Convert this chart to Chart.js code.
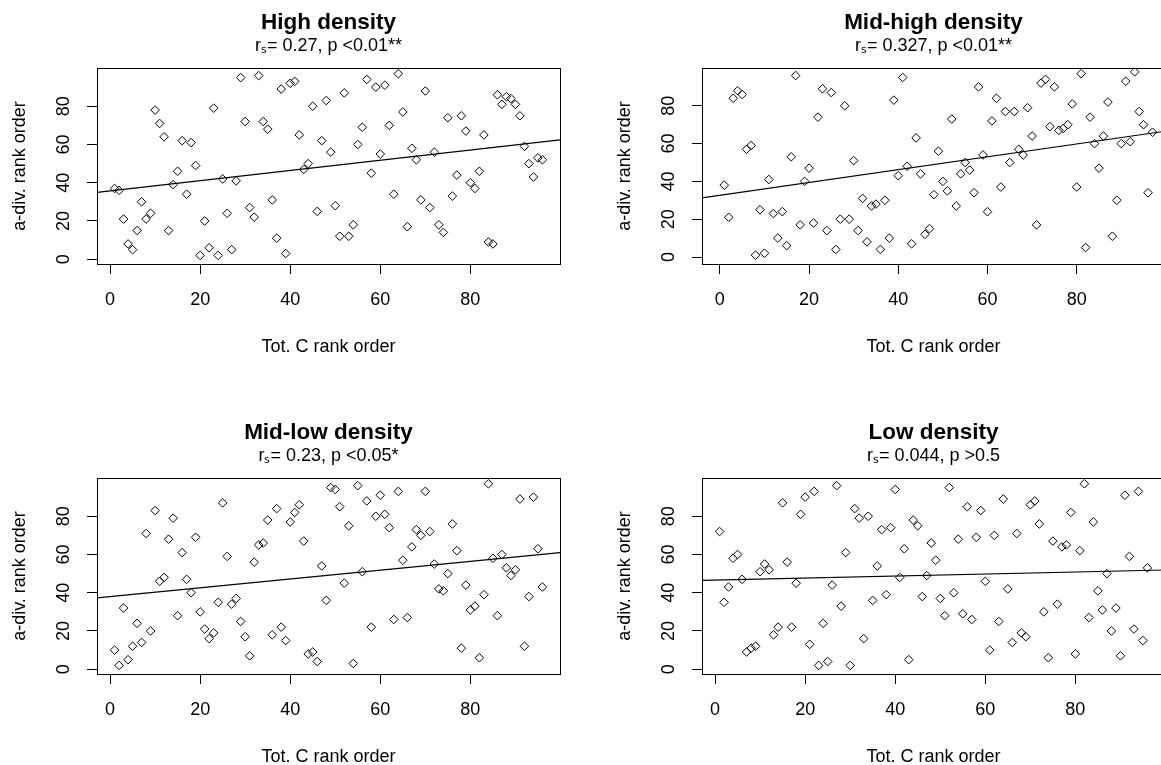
<!DOCTYPE html>
<html>
<head>
<meta charset="utf-8">
<script src="https://cdn.jsdelivr.net/npm/chart.js@4.4.0/dist/chart.umd.min.js"></script>
<style>
  html, body { margin: 0; padding: 0; background: #fff; overflow: hidden; }
  #wrap { position: relative; width: 1161px; height: 765px; overflow: hidden; }
  #wrap canvas { position: absolute; }
</style>
</head>
<body>
<div id="wrap">
  <canvas id="p1" width="605" height="410" style="left:0;top:0"></canvas>
  <canvas id="p2" width="605" height="410" style="left:605px;top:0"></canvas>
  <canvas id="p3" width="605" height="410" style="left:0;top:410px"></canvas>
  <canvas id="p4" width="605" height="410" style="left:605px;top:410px"></canvas>
</div>
<script>
// Tot. C rank order (x)
const totCRank96 = [
  1, 2, 3, 4, 5, 6, 7, 8, 9, 10, 11, 12, 13, 14, 15, 16, 17, 18, 19, 20,
  21, 22, 23, 24, 25, 26, 27, 28, 29, 30, 31, 32, 33, 34, 35, 36, 37, 38, 39, 40,
  41, 42, 43, 44, 45, 46, 47, 48, 49, 50, 51, 52, 53, 54, 55, 56, 57, 58, 59, 60,
  61, 62, 63, 64, 65, 66, 67, 68, 69, 70, 71, 72, 73, 74, 75, 76, 77, 78, 79, 80,
  81, 82, 83, 84, 85, 86, 87, 88, 89, 90, 91, 92, 93, 94, 95, 96
];
const totCRank97 = [
  1, 2, 3, 4, 5, 6, 7, 8, 9, 10, 11, 12, 13, 14, 15, 16, 17, 18, 19, 20,
  21, 22, 23, 24, 25, 26, 27, 28, 29, 30, 31, 32, 33, 34, 35, 36, 37, 38, 39, 40,
  41, 42, 43, 44, 45, 46, 47, 48, 49, 50, 51, 52, 53, 54, 55, 56, 57, 58, 59, 60,
  61, 62, 63, 64, 65, 66, 67, 68, 69, 70, 71, 72, 73, 74, 75, 76, 77, 78, 79, 80,
  81, 82, 83, 84, 85, 86, 87, 88, 89, 90, 91, 92, 93, 94, 95, 96, 97
];

// a-div. rank order (y) for each density class
const highDiv = [
  37, 36, 21, 8, 5, 15, 30, 21, 24, 78, 71, 64, 15, 39, 46, 62, 34, 61, 49, 2,
  20, 6, 79, 2, 42, 24, 5, 41, 95, 72, 27, 22, 96, 72, 68, 31, 11, 89, 3, 92,
  93, 65, 47, 50, 80, 25, 62, 83, 56, 28, 12, 87, 12, 18, 60, 69, 94, 45, 90, 55,
  91, 70, 34, 97, 77, 17, 58, 52, 31, 88, 27, 56, 18, 14, 74, 33, 44, 75, 67, 40,
  37, 46, 65, 9, 8, 86, 81, 85, 84, 81, 75, 59, 50, 43, 53, 52
];
const midHighDiv = [
  38, 21, 84, 88, 86, 57, 59, 1, 25, 2, 41, 23, 10, 24, 6, 53, 96, 17, 40, 47,
  18, 74, 89, 14, 87, 4, 20, 80, 20, 51, 14, 31, 8, 27, 28, 4, 30, 10, 83, 43,
  95, 48, 7, 63, 44, 12, 15, 33, 56, 40, 35, 73, 27, 44, 50, 46, 34, 90, 54, 24,
  72, 84, 37, 77, 50, 77, 57, 54, 79, 64, 17, 92, 94, 69, 90, 67, 68, 70, 81, 37,
  97, 5, 74, 60, 47, 64, 82, 11, 30, 60, 93, 61, 98, 77, 70, 34, 66
];
const midLowDiv = [
  10, 2, 32, 5, 12, 24, 14, 71, 20, 83, 46, 48, 68, 79, 28, 61, 47, 40, 69, 30,
  21, 16, 19, 35, 87, 59, 34, 37, 25, 17, 7, 56, 65, 66, 78, 18, 84, 22, 15, 77,
  82, 86, 67, 8, 9, 4, 54, 36, 95, 94, 85, 45, 75, 3, 96, 51, 88, 22, 80, 91,
  81, 74, 26, 93, 57, 27, 64, 73, 70, 93, 72, 55, 42, 41, 50, 76, 62, 11, 44, 31,
  33, 6, 39, 97, 58, 28, 60, 53, 49, 52, 89, 12, 38, 90, 63, 43
];
const lowDiv = [
  72, 35, 43, 58, 60, 47, 9, 11, 12, 51, 55, 52, 18, 22, 87, 56, 22, 45, 81, 90,
  13, 93, 2, 24, 4, 44, 96, 33, 61, 2, 84, 79, 16, 80, 36, 54, 73, 39, 74, 94,
  48, 63, 5, 78, 75, 38, 49, 66, 57, 37, 28, 95, 40, 68, 29, 85, 26, 69, 83, 46,
  10, 70, 25, 89, 42, 14, 71, 19, 17, 86, 88, 76, 30, 6, 67, 34, 64, 65, 82, 8,
  62, 97, 27, 77, 41, 31, 50, 20, 32, 7, 91, 59, 21, 93, 15, 53
];

const panelTitles = ["High density", "Mid-high density", "Mid-low density", "Low density"];
const panelStats = ["r\u209b= 0.27, p <0.01**", "r\u209b= 0.327, p <0.01**", "r\u209b= 0.23, p <0.05*", "r\u209b= 0.044, p >0.5"];
const fitIntercepts = [35.7, 32.6, 38.0, 46.6];
const fitSlopes = [0.267, 0.34, 0.23, 0.053];
const tickVals = [0, 20, 40, 60, 80];

const FONT = '"Liberation Sans", Arial, Helvetica, sans-serif';

// R-style box around the plot region
const frame = {
  id: 'frame',
  afterDatasetsDraw(chart) {
    const { ctx, chartArea: a } = chart;
    ctx.save();
    ctx.strokeStyle = '#000';
    ctx.lineWidth = 1;
    ctx.strokeRect(Math.round(a.left) + 0.5, Math.round(a.top) + 0.5,
      Math.round(a.right - a.left), Math.round(a.bottom - a.top));
    ctx.restore();
  }
};

function drawPanel(id, idx, xs, ys, lim) {
  const pts = xs.map((x, i) => ({ x, y: ys[i] }));
  const a = fitIntercepts[idx], b = fitSlopes[idx];
  const fitLine = lim.x.map(x => ({ x, y: a + b * x }));

  new Chart(document.getElementById(id), {
    type: 'scatter',
    data: {
      datasets: [
        {
          data: pts,
          pointStyle: 'rectRot',
          pointRadius: 4.3,
          borderWidth: 1,
          pointBorderWidth: 1,
          borderColor: '#000',
          backgroundColor: 'rgba(0,0,0,0)'
        },
        {
          data: fitLine,
          showLine: true,
          pointRadius: 0,
          borderColor: '#000',
          borderWidth: 1.2,
          fill: false
        }
      ]
    },
    options: {
      responsive: false,
      animation: false,
      devicePixelRatio: 1,
      events: [],
      layout: { padding: { left: 0, right: 45, top: 0, bottom: 0 } },
      plugins: {
        legend: { display: false },
        tooltip: { enabled: false },
        title: {
          display: true,
          fullSize: false,
          text: panelTitles[idx],
          color: '#000',
          font: { family: FONT, size: 22.5, weight: 'bold', lineHeight: 1.1 },
          padding: { top: 10, bottom: 0 }
        },
        subtitle: {
          display: true,
          fullSize: false,
          text: panelStats[idx],
          color: '#000',
          font: { family: FONT, size: 18, lineHeight: 1.1 },
          padding: { top: 1, bottom: 12.45 }
        }
      },
      scales: {
        x: {
          type: 'linear',
          position: 'bottom',
          bounds: 'data',
          min: lim.x[0],
          max: lim.x[1],
          afterBuildTicks: s => { s.ticks = tickVals.map(v => ({ value: v })); },
          afterFit: s => { s.height = 146; },
          ticks: { color: '#000', font: { family: FONT, size: 18 }, padding: 15, maxRotation: 0, autoSkip: false },
          grid: { drawOnChartArea: false, drawTicks: true, tickLength: 10, tickColor: '#000', tickWidth: 1 },
          border: { display: false },
          title: {
            display: true,
            text: 'Tot. C rank order',
            color: '#000',
            font: { family: FONT, size: 18 },
            padding: { top: 0, bottom: 52 }
          }
        },
        y: {
          type: 'linear',
          position: 'left',
          bounds: 'data',
          min: lim.y[0],
          max: lim.y[1],
          afterBuildTicks: s => { s.ticks = tickVals.map(v => ({ value: v })); },
          afterFit: s => { s.width = 97; },
          ticks: {
            color: '#000', font: { family: FONT, size: 18 }, padding: 13,
            minRotation: 90, maxRotation: 90, crossAlign: 'center', autoSkip: false
          },
          grid: { drawOnChartArea: false, drawTicks: true, tickLength: 10, tickColor: '#000', tickWidth: 1 },
          border: { display: false },
          title: {
            display: true,
            text: 'a-div. rank order',
            color: '#000',
            font: { family: FONT, size: 18 },
            padding: { top: 9, bottom: 0 }
          }
        }
      }
    },
    plugins: [frame]
  });
}

drawPanel('p1', 0, totCRank96, highDiv, { x: [-2.9, 99.9], y: [-2.5, 100] });
drawPanel('p2', 1, totCRank97, midHighDiv, { x: [-4.0, 99.8], y: [-3.7, 100] });
drawPanel('p3', 2, totCRank96, midLowDiv, { x: [-2.9, 99.9], y: [-2.5, 100] });
drawPanel('p4', 3, totCRank96, lowDiv, { x: [-2.9, 99.9], y: [-2.5, 100] });
</script>
</body>
</html>
